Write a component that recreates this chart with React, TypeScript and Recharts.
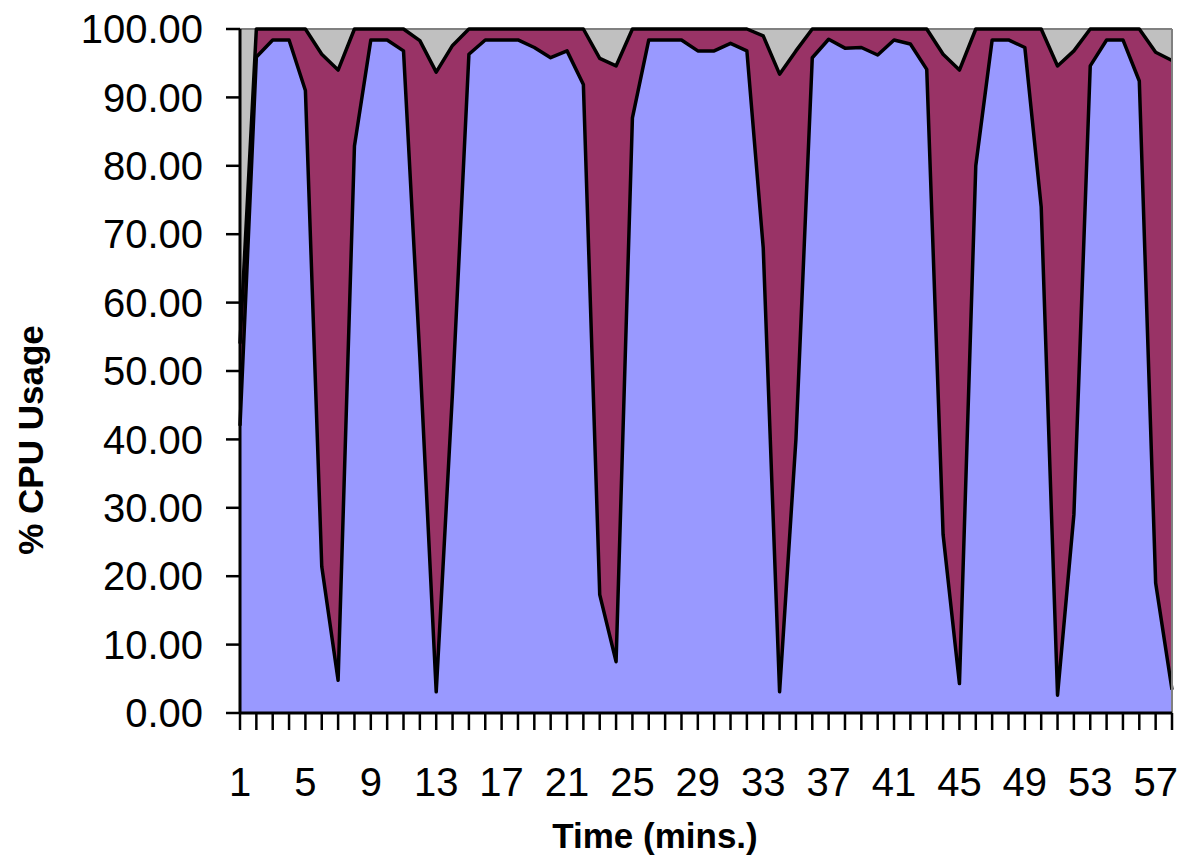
import React from 'react';
import { AreaChart, Area, XAxis, YAxis, ReferenceLine, Label } from 'recharts';

// minutes 1..58
const minutes = [
  1, 2, 3, 4, 5, 6, 7, 8, 9, 10, 11, 12, 13, 14, 15, 16, 17, 18, 19, 20,
  21, 22, 23, 24, 25, 26, 27, 28, 29, 30, 31, 32, 33, 34, 35, 36, 37, 38, 39, 40,
  41, 42, 43, 44, 45, 46, 47, 48, 49, 50, 51, 52, 53, 54, 55, 56, 57, 58,
];

// % user (blue)
const user = [
  42, 95.9, 98.4, 98.4, 91.0, 21.4, 4.8, 82.9, 98.4, 98.4,
  96.8, 52, 3.1, 47, 96.3, 98.4, 98.4, 98.4, 97.3, 95.8,
  96.8, 91.9, 17.3, 7.5, 87, 98.4, 98.4, 98.4, 96.8, 96.8,
  97.9, 96.8, 68, 3.1, 40, 95.8, 98.5, 97.2, 97.3, 96.2,
  98.4, 97.8, 94.1, 26.1, 4.3, 80, 98.4, 98.4, 97.3, 74,
  2.6, 29, 94.6, 98.4, 98.4, 92.4, 19, 3.4,
];

// % system (maroon)
const system = [
  12, 4.1, 1.6, 1.6, 9.0, 74.9, 89.2, 17.1, 1.6, 1.6,
  3.2, 46.3, 90.6, 50.6, 3.7, 1.6, 1.6, 1.6, 2.7, 4.2,
  3.2, 8.1, 78.4, 87.1, 13, 1.6, 1.6, 1.6, 3.2, 3.2,
  2.1, 3.2, 31, 90.3, 56.8, 4.2, 1.5, 2.8, 2.7, 3.8,
  1.6, 2.2, 5.9, 70.2, 89.7, 20, 1.6, 1.6, 2.7, 26,
  92, 67.8, 5.4, 1.6, 1.6, 7.6, 77.6, 92,
];

// % idle (grey)
const idle = [
  46, 0, 0, 0, 0, 3.7, 6.0, 0, 0, 0,
  0, 1.7, 6.3, 2.4, 0, 0, 0, 0, 0, 0,
  0, 0, 4.3, 5.4, 0, 0, 0, 0, 0, 0,
  0, 0, 1.0, 6.6, 3.2, 0, 0, 0, 0, 0,
  0, 0, 0, 3.7, 6.0, 0, 0, 0, 0, 0,
  5.4, 3.2, 0, 0, 0, 0, 3.4, 4.6,
];

const yTicks = [0, 10, 20, 30, 40, 50, 60, 70, 80, 90, 100];

const data = minutes.map((m, i) => ({
  min: m,
  user: user[i],
  system: system[i],
  idle: idle[i],
}));

const FONT = '"Liberation Sans", Arial, sans-serif';

const XTick = (props: any) => {
  const { x, y, index, payload } = props;
  if (index % 4 !== 0) return null;
  return (
    <text x={x} y={y} dy="0.71em" textAnchor="middle" fontSize={40} fontFamily={FONT} fill="#000">
      {payload.value}
    </text>
  );
};

export default function App() {
  return (
    <div style={{ position: 'absolute', left: 0, top: 0, background: '#fff' }}>
      <AreaChart
        width={1180}
        height={857}
        data={data}
        margin={{ top: 29, right: 8, bottom: 0, left: 0 }}
      >
        <XAxis
          dataKey="min"
          interval={0}
          tick={<XTick />}
          tickSize={17}
          tickMargin={38}
          height={144}
          axisLine={{ stroke: '#000', strokeWidth: 3 }}
          tickLine={{ stroke: '#000', strokeWidth: 2.5 }}
        >
          <Label
            content={() => (
              <text x={655} y={835} textAnchor="middle" dominantBaseline="central" fontSize={35} fontWeight="bold" fontFamily={FONT} fill="#000">
                Time (mins.)
              </text>
            )}
          />
        </XAxis>
        <YAxis
          domain={[0, 100]}
          ticks={yTicks}
          width={240}
          tickFormatter={(v: number) => v.toFixed(2)}
          tick={{ fontSize: 40, fontFamily: FONT, fill: '#000' }}
          tickSize={14}
          tickMargin={23}
          axisLine={{ stroke: '#000', strokeWidth: 3 }}
          tickLine={{ stroke: '#000', strokeWidth: 2.5 }}
        >
          <Label
            content={() => (
              <text x={30} y={440} textAnchor="middle" dominantBaseline="central" transform="rotate(-90 30 440)" fontSize={35} fontWeight="bold" fontFamily={FONT} fill="#000">
                % CPU Usage
              </text>
            )}
          />
        </YAxis>
        {/* filled stack */}
        <Area type="linear" dataKey="user" stackId="cpu" fill="#9999FF" fillOpacity={1} stroke="none" isAnimationActive={false} />
        <Area type="linear" dataKey="system" stackId="cpu" fill="#993366" fillOpacity={1} stroke="none" isAnimationActive={false} />
        <Area type="linear" dataKey="idle" stackId="cpu" fill="#C0C0C0" fillOpacity={1} stroke="#808080" strokeWidth={2} isAnimationActive={false} />
        {/* outline stack drawn on top so the borders are not covered */}
        <Area type="linear" name="userLine" dataKey={(d: any) => d.user} stackId="outline" fill="none" stroke="#000" strokeWidth={3.5} strokeLinejoin="round" isAnimationActive={false} />
        <Area type="linear" name="systemLine" dataKey={(d: any) => d.system} stackId="outline" fill="none" stroke="#000" strokeWidth={3.5} strokeLinejoin="round" isAnimationActive={false} />
        <ReferenceLine x={58} stroke="#808080" strokeWidth={2} />
      </AreaChart>
    </div>
  );
}
